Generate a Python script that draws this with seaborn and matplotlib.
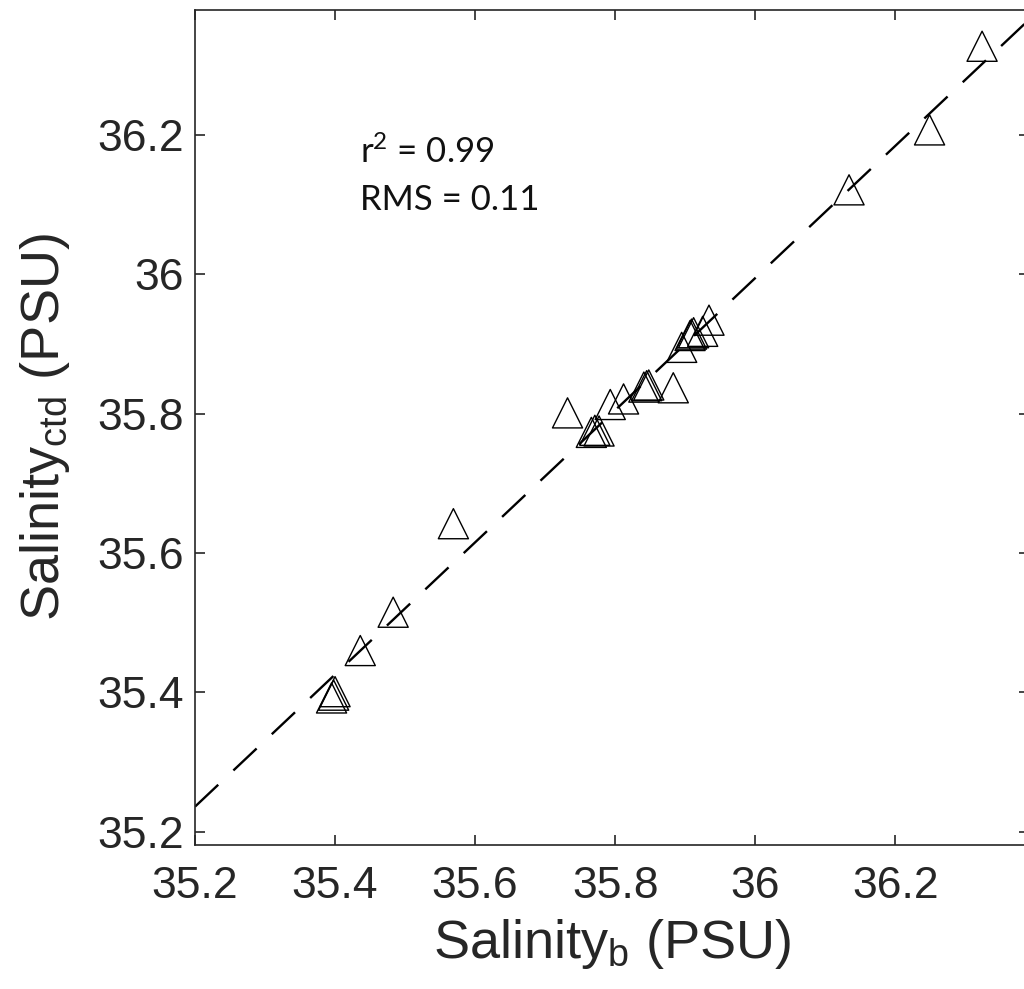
import numpy as np
import pandas as pd
import matplotlib
matplotlib.use("Agg")
import matplotlib.pyplot as plt
import seaborn as sns

# Bottle salinity vs CTD salinity (PSU)
salinity_b = [35.395, 35.398, 35.400, 35.436, 35.483, 35.569, 35.732,
              35.766, 35.771, 35.777, 35.793, 35.812, 35.841, 35.845,
              35.848, 35.883, 35.895, 35.907, 35.909, 35.912, 35.925,
              35.934, 36.134, 36.249, 36.324]
salinity_ctd = [35.392, 35.396, 35.401, 35.460, 35.515, 35.642, 35.801,
                35.773, 35.776, 35.775, 35.813, 35.821, 35.838, 35.840,
                35.841, 35.837, 35.895, 35.912, 35.914, 35.916, 35.918,
                35.934, 36.121, 36.207, 36.327]

# Linear fit drawn as dashed line
fit_slope = 0.948
fit_intercept = 35.236 - 0.948 * 35.2
fit_x = [35.2, 36.40]

x_ticks = [35.2, 35.4, 35.6, 35.8, 36.0, 36.2]
x_tick_labels = ["35.2", "35.4", "35.6", "35.8", "36", "36.2"]
y_ticks = [35.2, 35.4, 35.6, 35.8, 36.0, 36.2]
y_tick_labels = ["35.2", "35.4", "35.6", "35.8", "36", "36.2"]

r2_text = r"r$^{\mathsf{2}}$ = 0.99"
rms_text = "RMS = 0.11"

sns.set_theme(style="ticks")
plt.rcParams["font.family"] = ["Liberation Sans", "DejaVu Sans"]
plt.rcParams["mathtext.fontset"] = "custom"
plt.rcParams["mathtext.rm"] = "Liberation Sans"
plt.rcParams["mathtext.it"] = "Liberation Sans"
plt.rcParams["mathtext.sf"] = "Lato"
plt.rcParams["lines.scale_dashes"] = False

W, H = 1024, 989
fig = plt.figure(figsize=(W / 100, H / 100), dpi=100)
ax = fig.add_axes([195 / W, 1 - 845 / H, (1029 - 195) / W, (845 - 10) / H])

df = pd.DataFrame({"b": salinity_b, "ctd": salinity_ctd})
fit_df = pd.DataFrame({"x": fit_x,
                       "y": [fit_intercept + fit_slope * v for v in fit_x]})

sns.lineplot(data=fit_df, x="x", y="y", ax=ax, color="black", lw=1.7,
             linestyle=(0, (23, 15)), zorder=2)
sns.scatterplot(data=df, x="b", y="ctd", ax=ax, marker="^", s=470,
                facecolors="none", edgecolor="black", linewidth=1.0,
                zorder=3)

ax.set_xlim(35.2, 36.391)
ax.set_ylim(35.181, 36.379)
ax.set_xticks(x_ticks)
ax.set_xticklabels(x_tick_labels)
ax.set_yticks(y_ticks)
ax.set_yticklabels(y_tick_labels)

ax.tick_params(direction="in", length=7, width=1.2, colors="#262626",
               labelsize=32, top=True, right=True)
ax.tick_params(axis="x", pad=15)
ax.tick_params(axis="y", pad=8)
for sp in ax.spines.values():
    sp.set_visible(True)
    sp.set_color("#262626")
    sp.set_linewidth(1.2)

ax.set_xlabel(r"Salinity$_{\mathrm{b}}$ (PSU)", fontsize=39, color="#262626",
              labelpad=7)
ax.set_ylabel(r"Salinity$_{\mathrm{ctd}}$ (PSU)", fontsize=39, color="#262626",
              labelpad=18)

ax.text(360, H - 163, r2_text, transform=None, fontsize=25,
        family=["Lato", "DejaVu Sans"], color="#111111")
ax.text(360, H - 210, rms_text, transform=None, fontsize=25,
        family=["Lato", "DejaVu Sans"], color="#111111")

fig.savefig("out.png", dpi=100)
